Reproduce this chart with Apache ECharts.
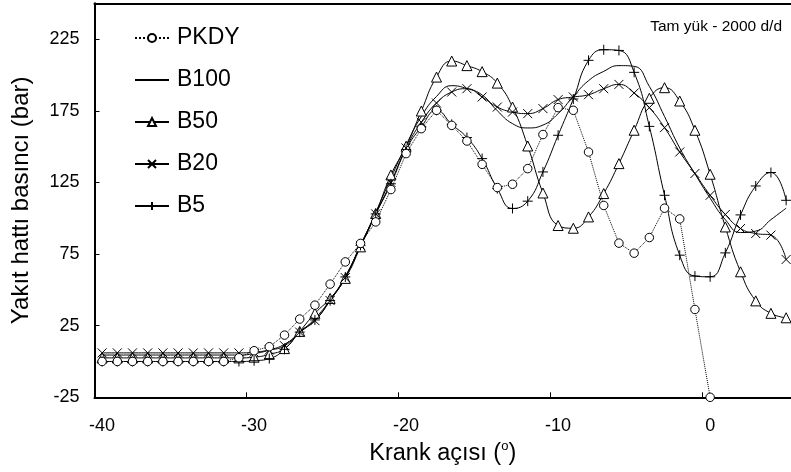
<!DOCTYPE html>
<html><head><meta charset="utf-8">
<script src="https://cdn.jsdelivr.net/npm/echarts@6/dist/echarts.min.js"></script>
<style>html,body{margin:0;padding:0;background:#fff}#c{width:791px;height:472px}</style>
</head><body><div id="c"></div>
<script>
const angles = [-40,-39,-38,-37,-36,-35,-34,-33,-32,-31,-30,-29,-28,-27,-26,-25,-24,-23,-22,-21,-20,-19,-18,-17,-16,-15,-14,-13,-12,-11,-10,-9,-8,-7,-6,-5,-4,-3,-2,-1,0,1,2,3,4,5];
const PKDY = [0,0,0,0,0,0,0,0,0,2.6,7.5,10.3,18.4,29.6,39.3,54,69.5,82.4,97.4,120,145.1,162.5,175.3,164.8,153.9,137.6,121.4,123.7,134.6,158.4,177.2,175.3,146.2,108.9,82.6,75.6,86.5,107,99.5,36.3,-25];
const B100 = [4.5,4.5,4.5,4.5,4.5,4.5,4.5,4.5,4.5,4.5,5.5,8,12,20,30,43,59.5,81,104,128,151,171,185,192.5,190.5,186,175,166,163,165,173,185,196,202.5,206.5,206,192,171,149,131,114,99,90,91,99,107];
const B50 = [2.5,2.5,2.5,2.5,2.5,2.5,2.5,2.5,2.5,2.5,3,5,9,21,33.6,44,58,80,103.3,130.2,150.2,174.8,198.5,209.7,206.5,202.3,194.3,177.6,150.4,117.6,94.9,93,100.9,117.2,138.1,161.4,183.7,191.1,181.8,161.4,130.7,93.9,62.6,42.3,33.6,30.5];
const B20 = [6,6,6,6,6,6,6,6,6,6,6.5,8,11,20.5,28.5,42.5,58.5,81,103,125,149,167,180.4,188.1,190.4,184.6,177.6,174.1,173,176.5,182.8,184.6,186.2,190.4,193.4,187.4,177.2,163.2,146.2,131.2,116,102.6,92.8,89.3,88.2,71.2];
const B5 = [0,0,0,0,0,0,0,0,0,0,0.5,2,8.5,20.5,29,42.5,59,81,103,124,148,163.7,175.3,165.5,156.3,141.6,120.7,106.8,111.9,132.3,157.9,183.2,210.2,217.6,217.1,201.8,164.1,116,74.2,59.6,59.1,75.8,102.3,122.5,131.9,112.5];
const xTickLabels = [-40,-30,-20,-10,0];
const xTickMarks = [-40.5,-30.5,-20.5,-10.5,-0.5];
const yTicks = [-25,25,75,125,175,225];

const FONT = "'Liberation Sans', Arial, sans-serif";
function pairs(vals){ const out=[]; vals.forEach((v,i)=>{ if(v!==null && v!==undefined) out.push([angles[i], v]); }); return out; }
const markStyle = {color:'#fff', borderColor:'#000', borderWidth:1};
const lineBase = {color:'#000', width:1};
const CLEAR = 'rgba(0,0,0,0)';

const chart = echarts.init(document.getElementById('c'), null, {renderer:'canvas'});
chart.setOption({
  animation:false,
  backgroundColor:'#fff',
  textStyle:{fontFamily:FONT},
  grid:{left:94.5, right:0, top:3.3, bottom:74.7, containLabel:false},
  legend:{
    orient:'vertical', left:129, top:21, itemWidth:34, itemHeight:10, itemGap:18,
    textStyle:{fontFamily:FONT, fontSize:23, color:'#000', lineHeight:24, padding:[0,0,0,3]},
    data:['PKDY','B100','B50','B20','B5']
  },
  xAxis:[{
    type:'value', min:-40.5, max:5.32,
    axisLine:{show:true, onZero:false, lineStyle:{color:'#000', width:2}},
    axisTick:{show:true, inside:true, length:5, customValues:xTickMarks, lineStyle:{color:'#000', width:1}},
    axisLabel:{customValues:xTickLabels, color:'#000', fontSize:18, fontFamily:FONT, margin:20},
    splitLine:{show:false},
    name:'Krank açısı ({sup|o})', nameLocation:'middle', nameGap:43,
    nameTextStyle:{fontFamily:FONT, fontSize:23.5, color:'#000',
      rich:{sup:{fontSize:13, fontFamily:FONT, color:'#000', verticalAlign:'bottom', padding:[0,0,13,0]}}}
  },{
    type:'value', min:-40.5, max:5.32, position:'top',
    axisLine:{show:true, onZero:false, lineStyle:{color:'#000', width:2}},
    axisTick:{show:false}, axisLabel:{show:false}, splitLine:{show:false}
  }],
  yAxis:{
    type:'value', min:-25, max:250,
    axisLine:{show:true, onZero:false, lineStyle:{color:'#000', width:2}},
    axisTick:{show:true, inside:true, length:5, customValues:yTicks, lineStyle:{color:'#000', width:1}},
    axisLabel:{customValues:yTicks, color:'#000', fontSize:18, fontFamily:FONT, margin:15},
    splitLine:{show:false},
    name:'Yakıt hattı basıncı (bar)', nameLocation:'middle', nameGap:61, nameRotate:90,
    nameTextStyle:{fontFamily:FONT, fontSize:24, color:'#000'}
  },
  graphic:[{type:'text', right:9, top:19, style:{text:'Tam yük - 2000 d/d', font:"15.5px 'Liberation Sans', Arial, sans-serif", fill:'#000'}}],
  series:[
    {name:'PKDY', type:'line', data:pairs(PKDY), smooth:false, symbol:'circle', symbolSize:8.5, showAllSymbol:true,
      lineStyle:Object.assign({}, lineBase, {type:'dotted'}), itemStyle:markStyle, z:5},
    {name:'B100', type:'line', data:pairs(B100), smooth:0.5, symbol:'circle', symbolSize:0, showSymbol:false,
      lineStyle:lineBase, itemStyle:{color:CLEAR, borderColor:CLEAR, borderWidth:0}},
    {name:'B50', type:'line', data:pairs(B50), smooth:0.5, symbol:'triangle', symbolSize:10, showAllSymbol:true,
      lineStyle:lineBase, itemStyle:markStyle},
    {name:'B20', type:'line', data:pairs(B20), smooth:0.5, symbol:'path://M0,0L10,10M10,0L0,10', symbolSize:9, showAllSymbol:true,
      lineStyle:lineBase, itemStyle:{color:'none', borderColor:'#000', borderWidth:1}},
    {name:'B5', type:'line', data:pairs(B5), smooth:0.5, symbol:'path://M5,0L5,10M0,5L10,5', symbolSize:10, showAllSymbol:true,
      lineStyle:lineBase, itemStyle:{color:'none', borderColor:'#000', borderWidth:1}}
  ]
});
</script></body></html>
